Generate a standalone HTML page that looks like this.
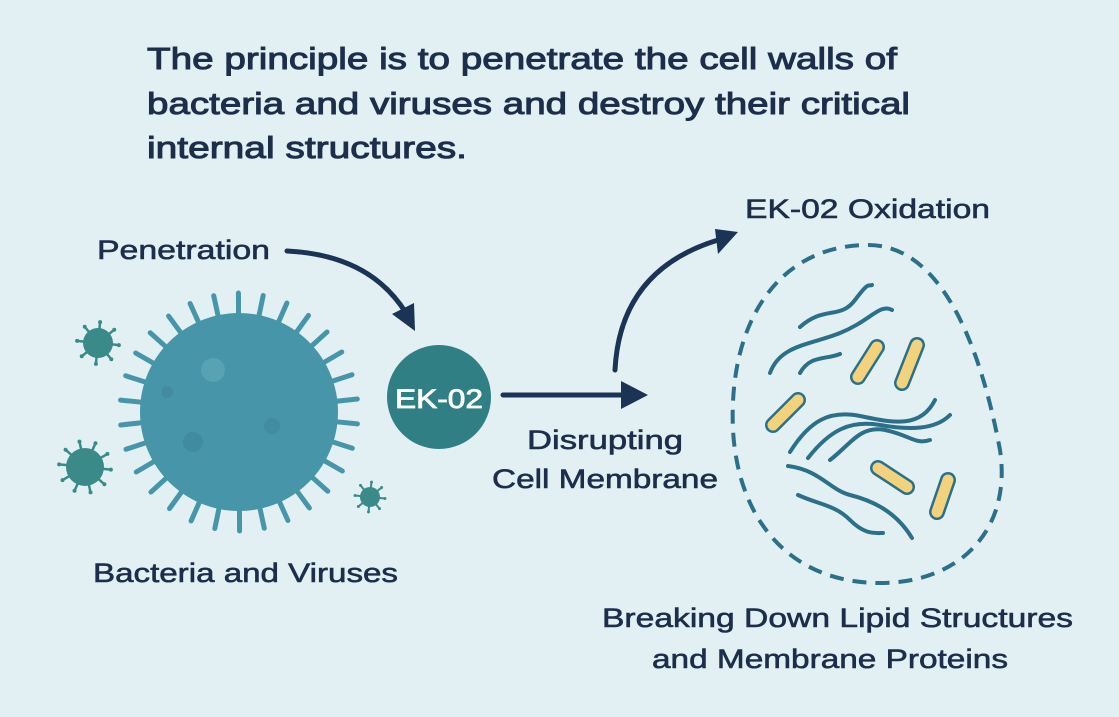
<!DOCTYPE html>
<html><head><meta charset="utf-8"><style>
html,body{margin:0;padding:0;background:#e2f0f3;}
svg{display:block;}
text{font-family:"Liberation Sans",sans-serif;fill:#1c2e4a;}
</style></head><body>
<svg id="s" width="1119" height="717" viewBox="0 0 1119 717" xmlns="http://www.w3.org/2000/svg">
<rect width="1119" height="717" fill="#e2f0f3"/>
<g font-size="31" stroke="#1c2e4a" stroke-width="1">
<text x="147" y="69" textLength="750" lengthAdjust="spacingAndGlyphs">The principle is to penetrate the cell walls of</text>
<text x="147" y="114" textLength="763" lengthAdjust="spacingAndGlyphs">bacteria and viruses and destroy their critical</text>
<text x="147" y="158" textLength="320" lengthAdjust="spacingAndGlyphs">internal structures.</text>
</g>
<g font-size="27" stroke="#1c2e4a" stroke-width="0.6">
<text x="97" y="259" textLength="173" lengthAdjust="spacingAndGlyphs">Penetration</text>
<text x="745" y="218" textLength="245" lengthAdjust="spacingAndGlyphs">EK-02 Oxidation</text>
<text x="527" y="449" textLength="156" lengthAdjust="spacingAndGlyphs">Disrupting</text>
<text x="492" y="488" textLength="226" lengthAdjust="spacingAndGlyphs">Cell Membrane</text>
<text x="93" y="582" textLength="305" lengthAdjust="spacingAndGlyphs">Bacteria and Viruses</text>
<text x="602" y="627" textLength="471" lengthAdjust="spacingAndGlyphs">Breaking Down Lipid Structures</text>
<text x="652" y="668" textLength="356" lengthAdjust="spacingAndGlyphs">and Membrane Proteins</text>
</g>
<g stroke="#1b3355" stroke-width="5" fill="none" stroke-linecap="round">
<path d="M287 251 Q370 255 406 313"/>
<path d="M503 395 L625 395"/>
<path d="M615 370 Q620 270 718 240"/>
</g>
<g fill="#1b3355">
<polygon points="415,331 392,314 414,303"/>
<polygon points="648,395 621,381 621,409"/>
<polygon points="738,232 715,229 718,254"/>
</g>
<circle cx="439" cy="397" r="52" fill="#2f7f84"/>
<text x="439" y="408" font-size="27" text-anchor="middle" style="fill:#fff" stroke="#fff" stroke-width="0.8" textLength="88" lengthAdjust="spacingAndGlyphs">EK-02</text>
<g id="viruses"></g>
<path d="M868 245 C950 245 985 370 1000 450 C1012 530 960 583 880 583 C790 583 738 520 733 430 C728 320 780 245 868 245 Z" fill="none" stroke="#2b7088" stroke-width="4" stroke-dasharray="14 9"/>
<g stroke="#2b7088" stroke-width="4" fill="none" stroke-linecap="round">
<path d="M800 327 C825 305 840 320 855 300 S868 287 872 285"/>
<path d="M770 373 C780 345 810 345 840 333 S880 303 892 310"/>
<path d="M800 373 C810 355 825 360 840 354"/>
<path d="M790 452 C810 420 830 410 860 416 S920 430 935 400"/>
<path d="M808 458 C830 430 850 420 880 425 S935 430 950 415"/>
<path d="M830 460 C850 445 860 425 885 430 S915 445 930 440"/>
<path d="M788 466 C820 470 830 490 850 495 S895 510 912 538"/>
<path d="M798 495 C820 505 835 505 850 520 S875 533 883 533"/>
</g>
<g stroke-linecap="round">
<g stroke="#2b7088" stroke-width="16">
<line x1="877" y1="347" x2="858" y2="377"/><line x1="917" y1="345" x2="902" y2="383"/><line x1="798" y1="400" x2="773" y2="425"/><line x1="878" y1="468" x2="907" y2="487"/><line x1="948" y1="480" x2="937" y2="512"/>
</g>
<g stroke="#f2d27c" stroke-width="11">
<line x1="877" y1="347" x2="858" y2="377"/><line x1="917" y1="345" x2="902" y2="383"/><line x1="798" y1="400" x2="773" y2="425"/><line x1="878" y1="468" x2="907" y2="487"/><line x1="948" y1="480" x2="937" y2="512"/>
</g>
</g>
</svg>
<script>
var g=document.getElementById('viruses'),h='';
function virus(cx,cy,r,n,len,sw,col,knob){
 for(var i=0;i<n;i++){var a=i/n*2*Math.PI+0.1;
  var x1=cx+Math.cos(a)*(r-2),y1=cy+Math.sin(a)*(r-2),x2=cx+Math.cos(a)*(r+len),y2=cy+Math.sin(a)*(r+len);
  h+='<line x1="'+x1+'" y1="'+y1+'" x2="'+x2+'" y2="'+y2+'" stroke="'+col+'" stroke-width="'+sw+'" stroke-linecap="round"/>';
  if(knob)h+='<circle cx="'+x2+'" cy="'+y2+'" r="'+knob+'" fill="'+col+'"/>';}
 h+='<circle cx="'+cx+'" cy="'+cy+'" r="'+r+'" fill="'+col+'"/>';}
virus(239,412,99,30,20,5,'#4795a9',0);
h+='<circle cx="213" cy="370" r="12" fill="#5fa8b8" opacity=".7"/><circle cx="193" cy="442" r="10" fill="#3f8497" opacity=".6"/><circle cx="272" cy="426" r="8" fill="#3f8497" opacity=".5"/><circle cx="167" cy="392" r="6" fill="#3f8497" opacity=".5"/>';
virus(98,343,15,8,6,2.5,'#3a8a8a',2);
virus(85,467,19,10,7,2.5,'#3a8a8a',2);
virus(370,497,10,8,5,2,'#3a8a8a',1.5);
g.innerHTML=h;
</script>
</body></html>
